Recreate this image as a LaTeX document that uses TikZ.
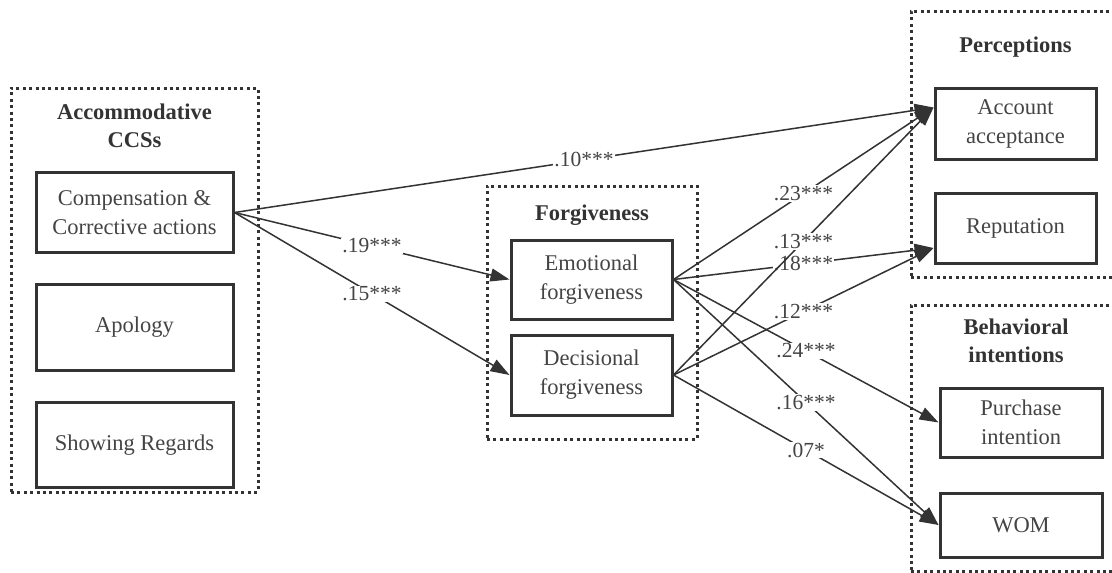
\documentclass[tikz,border=0pt]{standalone}
\usepackage{fontspec}
\setmainfont{Liberation Serif}
\usepackage{tikz}
\usetikzlibrary{arrows.meta,positioning,fit,calc}

\definecolor{linegray}{HTML}{333333}
\definecolor{textgray}{HTML}{444444}

\begin{document}
\begin{tikzpicture}[
      x=1pt, y=-1pt, % coordenadas em pixels da figura
      >={Triangle[length=19pt,width=13pt]},
      box/.style={rectangle, draw=linegray, line width=3pt, minimum width=197pt,
        minimum height=80pt, align=center, text=textgray,
        font=\fontsize{22.5}{29}\selectfont},
      groupbox/.style={rectangle, draw=linegray, line width=3pt,
        dash pattern=on 3pt off 3.4pt, inner sep=0pt},
      grouplabel/.style={align=center, text=linegray,
        font=\fontsize{22.5}{28}\selectfont\bfseries},
      link/.style={->, line width=1.5pt, draw=linegray},
      coef/.style={fill=white, inner sep=1pt, text=textgray,
        font=\fontsize{21.5}{24}\selectfont},
  ]

      \path[use as bounding box, clip] (0,0) rectangle (1112,573);

      % --- ACCOMMODATIVE CCSs ---
      \node[groupbox, fit={(11,88) (258,492)}] (ccsgroup) {};
      \node[grouplabel] (ccslabel) at (134.5,126) {Accommodative\\CCSs};
      \node[box] (comp) at (134.5,212.5) {Compensation \&\\Corrective actions};
      \node[box, minimum height=86pt] (apology) [below=29pt of comp] {Apology};
      \node[box, minimum height=85pt] (regards) [below=29pt of apology] {Showing Regards};

      % --- FORGIVENESS ---
      \node[groupbox, fit={(487,186) (697,439)}] (forgroup) {};
      \node[grouplabel] (forlabel) at (592,215) {Forgiveness};
      \node[box, minimum width=161pt, minimum height=79pt] (emo) at (591.5,279.5) {Emotional\\forgiveness};
      \node[box, minimum width=161pt] (dec) [below=13pt of emo] {Decisional\\forgiveness};

      % --- PERCEPTIONS ---
      \node[groupbox, fit={(911,11) (1130,277)}] (pergroup) {};
      \node[grouplabel] (perlabel) at (1015.5,47) {Perceptions};
      \node[box, minimum width=161pt, minimum height=71pt] (acc) at (1015.5,123.5) {Account\\acceptance};
      \node[box, minimum width=161pt, minimum height=70pt] (rep) [below=31pt of acc] {Reputation};

      % --- BEHAVIORAL INTENTIONS ---
      \node[groupbox, fit={(911,305) (1130,571)}] (behgroup) {};
      \node[grouplabel] (behlabel) at (1016,341) {Behavioral\\intentions};
      \node[box, minimum width=162pt, minimum height=69pt] (pur) at (1021,422.5) {Purchase\\intention};
      \node[box, minimum width=162pt, minimum height=64pt] (wom) [below=33pt of pur] {WOM};

      % pontos de chegada
      \coordinate (accin) at ($(acc.west)+(0,-16)$);
      \coordinate (repin) at ($(rep.west)+(0,20)$);

      % --- CAMINHOS ---
      \draw[link] (comp.east) -- node[coef] {.10***} (accin);
      \draw[link] (comp.east) -- node[coef] {.19***} (emo.west);
      \draw[link] (comp.east) -- node[coef] {.15***} (dec.west);

      \draw[link] (emo.east) -- node[coef] {.23***} (accin);
      \draw[link] (emo.east) -- node[coef] {.18***} (repin);
      \draw[link] (emo.east) -- node[coef] {.24***} (pur.west);
      \draw[link] (emo.east) -- node[coef] {.16***} (wom.west);

      \draw[link] (dec.east) -- node[coef] {.13***} (accin);
      \draw[link] (dec.east) -- node[coef] {.12***} (repin);
      \draw[link] (dec.east) -- node[coef] {.07*} (wom.west);

  \end{tikzpicture}
\end{document}
